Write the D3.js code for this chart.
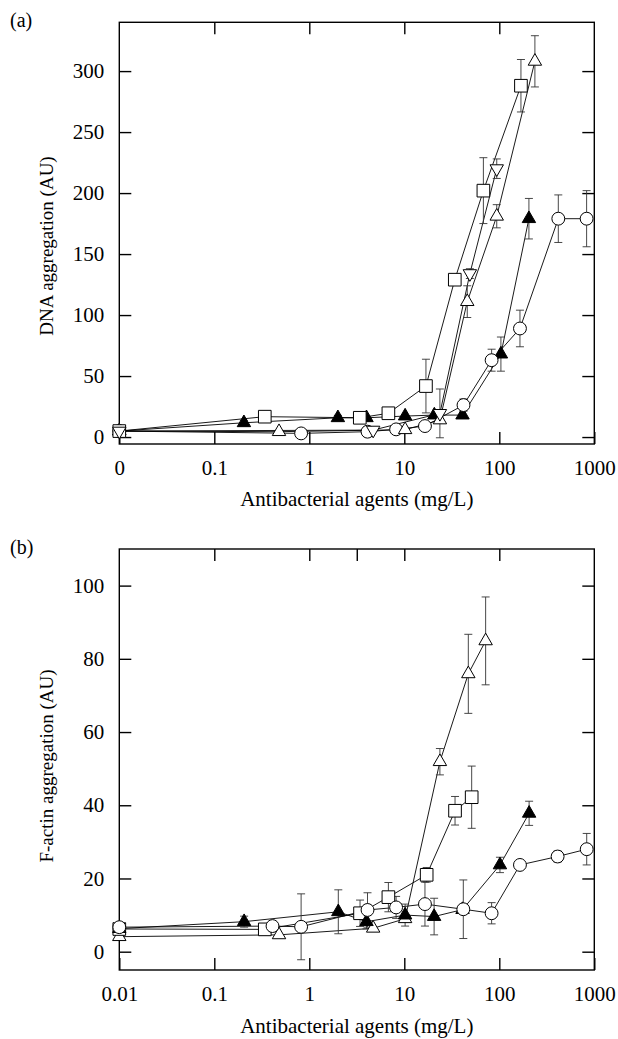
<!DOCTYPE html>
<html>
<head>
<meta charset="utf-8">
<script src="https://cdn.jsdelivr.net/npm/d3@7"></script>
<style>
  html, body { margin: 0; padding: 0; background: #fff; }
  svg text { font-family: "Liberation Serif", "DejaVu Serif", serif !important; fill: #000; }
</style>
</head>
<body>
<svg id="chart" width="618" height="1039"></svg>
<script>
// ---------- DATA ----------
// x values in mg/L (0 concentration plotted at 0.01), y values, error (+/-)
// Panel (a): DNA aggregation
const aSquareX = [0.01, 0.34, 3.4, 6.8, 16.9, 34, 68, 169];
const aSquareY = [4.9, 16.7, 15.8, 19.5, 41.8, 129, 202, 288];
const aSquareE = [0, 2, 2, 3, 22, 0, 27, 21.5];

const aTriUpX = [0.01, 0.48, 10.2, 23.7, 46, 94, 237];
const aTriUpY = [4.9, 4.4, 6, 14, 111, 181, 308];
const aTriUpE = [0, 0, 0, 0, 13, 9.5, 21];

const aTriDownX = [0.01, 4.7, 23.7, 49, 94];
const aTriDownY = [4.9, 5.7, 19.4, 134, 220];
const aTriDownE = [0, 0, 20, 4, 8];

const aFilledX = [0.01, 0.205, 2.0, 4.0, 10.2, 20.7, 41, 104, 205];
const aFilledY = [4.9, 11.7, 15.8, 15.8, 17.2, 18, 18, 68, 179];
const aFilledE = [0, 2, 2, 0, 0, 0, 0, 14, 16.6];

const aCircleX = [0.01, 0.82, 4.1, 8.2, 16.5, 42, 83, 165, 418, 830];
const aCircleY = [4.9, 3, 4.4, 6.3, 9, 26.2, 63, 89, 179, 179];
const aCircleE = [0, 0, 0, 0, 0, 5, 9, 15, 19.5, 23];

// Panel (b): F-actin aggregation
const bSquareX = [0.01, 0.34, 3.42, 6.8, 17.2, 34.2, 51.2];
const bSquareY = [6.2, 6.1, 10.5, 14.9, 21.0, 38.5, 42.2];
const bSquareE = [0, 0, 3.6, 4, 2, 3.9, 8.5];

const bTriUpX = [0.01, 0.48, 4.7, 10.2, 23.7, 47.2, 71.8];
const bTriUpY = [4.1, 4.6, 6.4, 9, 51.9, 75.9, 84.9];
const bTriUpE = [0, 0, 0, 0, 3.6, 10.8, 12];

const bFilledX = [0.01, 0.206, 2.02, 4.0, 10.2, 20.6, 41, 101.6, 206];
const bFilledY = [6.3, 8.2, 10.9, 8.2, 10, 9.6, 11.5, 23.7, 37.8];
const bFilledE = [0, 1.5, 6, 2, 3, 5, 0, 2.1, 3.3];

const bCircleX = [0.01, 0.41, 0.82, 4.1, 8.2, 16.5, 41.8, 83, 165, 411, 832];
const bCircleY = [6.7, 7.0, 6.8, 11.4, 12.1, 13.0, 11.6, 10.5, 23.7, 26, 28];
const bCircleE = [0, 0, 9, 4.7, 3, 6, 8, 2.9, 0, 1.5, 4.3];

// Axis ticks and labels
const xTickValues = [0.01, 0.1, 1, 10, 100, 1000];
const xTickLabelsA = ["0", "0.1", "1", "10", "100", "1000"];
const xTickLabelsB = ["0.01", "0.1", "1", "10", "100", "1000"];
const yTicksA = [0, 50, 100, 150, 200, 250, 300];
const yTicksB = [0, 20, 40, 60, 80, 100];
const xTitle = "Antibacterial agents (mg/L)";
const yTitleA = "DNA aggregation (AU)";
const yTitleB = "F-actin aggregation (AU)";

// ---------- DRAW ----------
const svg = d3.select("#chart");
const FS = 21;
const FONT = "'Liberation Serif', 'DejaVu Serif', serif";

function zip(xs, ys, es) { return xs.map((x, i) => ({x: x, y: ys[i], e: es[i]})); }

function styleText(sel, size) {
  sel.attr("font-size", size || FS).style("font-family", FONT).attr("fill", "#000");
}

function panel(cfg) {
  const g = svg.append("g");
  const x = d3.scaleLog().domain([0.01, 1000]).range([cfg.left, cfg.right]);
  const y = d3.scaleLinear().domain(cfg.yDomain).range([cfg.bottom, cfg.top]);
  const T = 12;

  // frame
  g.append("rect").attr("x", cfg.left).attr("y", cfg.top)
    .attr("width", cfg.right - cfg.left).attr("height", cfg.bottom - cfg.top)
    .attr("fill", "none").attr("stroke", "#000").attr("stroke-width", 1.4);

  // axes with inward ticks
  const fmt = d => cfg.xLabels[xTickValues.indexOf(d)];
  const bottomAxis = d3.axisBottom(x).tickValues(xTickValues).tickFormat(fmt).tickSize(-T).tickPadding(16);
  const ax = g.append("g").attr("transform", `translate(0,${cfg.bottom})`).call(bottomAxis);
  ax.select(".domain").remove();
  ax.selectAll("line").attr("stroke-width", 1.4);
  styleText(ax.selectAll("text"));

  const topAxis = d3.axisTop(x).tickValues(cfg.topTicks).tickFormat("").tickSize(-T);
  const at = g.append("g").attr("transform", `translate(0,${cfg.top})`).call(topAxis);
  at.select(".domain").remove();
  at.selectAll("line").attr("stroke-width", 1.4);

  const leftAxis = d3.axisLeft(y).tickValues(cfg.yTicks).tickFormat(d3.format("d")).tickSize(-T).tickPadding(15);
  const al = g.append("g").attr("transform", `translate(${cfg.left},0)`).call(leftAxis);
  al.select(".domain").remove();
  al.selectAll("line").attr("stroke-width", 1.4);
  styleText(al.selectAll("text"));

  const rightAxis = d3.axisRight(y).tickValues(cfg.yTicks).tickFormat("").tickSize(-T);
  const ar = g.append("g").attr("transform", `translate(${cfg.right},0)`).call(rightAxis);
  ar.select(".domain").remove();
  ar.selectAll("line").attr("stroke-width", 1.4);

  // titles
  styleText(g.append("text").attr("x", (cfg.left + cfg.right) / 2).attr("y", cfg.xTitleY)
    .attr("text-anchor", "middle").text(xTitle));
  styleText(g.append("text").attr("transform", `translate(${cfg.yTitleX},${cfg.yTitleCY}) rotate(-90)`)
    .attr("text-anchor", "middle").text(cfg.yTitle), 19);
  styleText(g.append("text").attr("x", 10).attr("y", cfg.tagY).text(cfg.tag), 20);

  const line = d3.line().x(d => x(d.x)).y(d => y(d.y));
  // lines
  cfg.series.forEach(s => {
    g.append("path").datum(s.data).attr("d", line)
      .attr("fill", "none").attr("stroke", "#000").attr("stroke-width", 0.9);
  });
  // error bars
  cfg.series.forEach(s => {
    const eb = g.append("g").attr("stroke", "#333").attr("stroke-width", 0.9);
    s.data.filter(d => d.e > 0).forEach(d => {
      const cx = x(d.x), y1 = y(d.y + d.e), y0 = y(d.y - d.e);
      eb.append("line").attr("x1", cx).attr("x2", cx).attr("y1", y1).attr("y2", y0);
      eb.append("line").attr("x1", cx - 4).attr("x2", cx + 4).attr("y1", y1).attr("y2", y1);
      eb.append("line").attr("x1", cx - 4).attr("x2", cx + 4).attr("y1", y0).attr("y2", y0);
    });
  });
  // symbols
  cfg.series.forEach(s => {
    const sym = d3.symbol().type(s.type).size(s.size);
    g.append("g").selectAll("path").data(s.data).join("path")
      .attr("d", sym)
      .attr("transform", d => `translate(${x(d.x)},${y(d.y)})${s.rot ? " rotate(180)" : ""}`)
      .attr("fill", s.fill).attr("stroke", "#000").attr("stroke-width", 1);
  });
}

const SQ = {type: d3.symbolSquare, size: 160};
const CI = {type: d3.symbolCircle, size: 130};
const TR = {type: d3.symbolTriangle, size: 78};

panel({
  left: 119.3, right: 594.3, top: 22.3, bottom: 444,
  yDomain: [-5.7, 340], yTicks: yTicksA, xLabels: xTickLabelsA,
  topTicks: [0.1, 1, 10, 100],
  xTitleY: 506, yTitleX: 53, yTitleCY: 246, yTitle: yTitleA, tag: "(a)", tagY: 27,
  series: [
    Object.assign({data: zip(aFilledX, aFilledY, aFilledE), fill: "#000"}, TR),
    Object.assign({data: zip(aCircleX, aCircleY, aCircleE), fill: "#fff"}, CI),
    Object.assign({data: zip(aTriUpX, aTriUpY, aTriUpE), fill: "#fff"}, TR),
    Object.assign({data: zip(aSquareX, aSquareY, aSquareE), fill: "#fff"}, SQ),
    Object.assign({data: zip(aTriDownX, aTriDownY, aTriDownE), fill: "#fff", rot: true}, TR)
  ]
});

panel({
  left: 119.3, right: 594.3, top: 549, bottom: 970,
  yDomain: [-5, 110], yTicks: yTicksB, xLabels: xTickLabelsB,
  topTicks: [0.1, 1, 3.16, 10, 100],
  xTitleY: 1033, yTitleX: 53, yTitleCY: 766, yTitle: yTitleB, tag: "(b)", tagY: 554,
  series: [
    Object.assign({data: zip(bTriUpX, bTriUpY, bTriUpE), fill: "#fff"}, TR),
    Object.assign({data: zip(bSquareX, bSquareY, bSquareE), fill: "#fff"}, SQ),
    Object.assign({data: zip(bFilledX, bFilledY, bFilledE), fill: "#000"}, TR),
    Object.assign({data: zip(bCircleX, bCircleY, bCircleE), fill: "#fff"}, CI)
  ]
});
</script>
</body>
</html>
